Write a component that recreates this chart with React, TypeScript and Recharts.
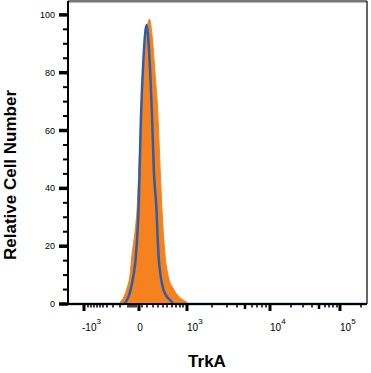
import React from 'react';
import { ComposedChart, Area, Line, XAxis, YAxis, ReferenceLine } from 'recharts';

// x values are display channels on the biexponential TrkA axis (0..299 across the plot)
const orangeX = [0, 51, 53, 56, 59, 62, 64, 67, 69, 71, 73, 76, 79, 81.5, 84, 87, 90, 92, 94, 97, 100, 105, 111, 117, 122, 299];
const orangeY = [0, 0, 1, 2.5, 5.5, 10, 17, 25, 32.5, 48, 65, 82, 95, 98.5, 93, 80, 65, 48, 32.5, 17, 10, 5.5, 2.5, 1, 0, 0];

const blueX = [0, 56, 59, 61, 63, 66, 68, 69.5, 70.5, 71.5, 73, 75.5, 78.5, 81, 84, 86, 88.5, 89.5, 90.5, 92.5, 95, 98, 102, 106, 299];
const blueY = [0, 0, 1.4, 3, 5.5, 11, 17, 25, 32.5, 45, 65, 85, 96.5, 88, 65, 45, 32.5, 24, 17, 10, 5.5, 3, 1.4, 0, 0];

// axis ticks
const xMajorTicks = [16, 71, 119, 202, 272];
const xLabelBase = ['-10', '0', '10', '10', '10'];
const xLabelExp = ['3', '', '3', '4', '5'];
const xMidTicks = [177, 251];
const xMinorTicks = [
    20, 23, 26, 29, 32, 35, 39, 45, 52,
    60, 62, 64, 66, 68, 74,
    79, 85, 90, 95, 99, 104, 108, 112, 115,
    144, 159, 169, 184, 189, 194, 198,
    223, 235, 244, 257, 261, 265, 269,
    293,
];
const yTicks = [0, 5, 10, 15, 20, 25, 30, 35, 40, 45, 50, 55, 60, 65, 70, 75, 80, 85, 90, 95, 100];
const yMajorTicks = [0, 20, 40, 60, 80, 100];

const X_MAX = 299;
const Y_MAX = 104.8;
const FONT = '"Liberation Sans", Arial, Helvetica, sans-serif';

// merge both histograms into one table keyed by x
const buildTable = () => {
    const map = new Map<number, { x: number; orange?: number; blue?: number }>();
    orangeX.forEach((x, i) => {
        const row = map.get(x) || { x };
        row.orange = orangeY[i];
        map.set(x, row);
    });
    blueX.forEach((x, i) => {
        const row = map.get(x) || { x };
        row.blue = blueY[i];
        map.set(x, row);
    });
    return Array.from(map.values()).sort((a, b) => a.x - b.x);
};

const allXTicks = [...xMajorTicks, ...xMidTicks, ...xMinorTicks].sort((a, b) => a - b);

const XTick = (props: any) => {
    const { x, y, payload } = props;
    const v = payload.value;
    const mi = xMajorTicks.indexOf(v);
    const isMid = xMidTicks.includes(v);
    const len = mi >= 0 ? 7 : isMid ? 5 : 3.5;
    const w = mi >= 0 ? 3 : isMid ? 2.5 : 1.5;
    return (
        <g>
            <rect x={x - w / 2} y={y} width={w} height={len} fill="#000" />
            {mi >= 0 && (
                <text
                    x={xLabelExp[mi] ? x - (xLabelBase[mi].startsWith('-') ? 2 : 0) : x + 1}
                    y={y + 27}
                    textAnchor={xLabelExp[mi] ? 'start' : 'middle'}
                    fontSize={10}
                    fontFamily={FONT}
                    fill="#000"
                >
                    {xLabelBase[mi]}
                    {xLabelExp[mi] && (
                        <tspan dy={-7} fontSize={8}>{xLabelExp[mi]}</tspan>
                    )}
                </text>
            )}
        </g>
    );
};

const YTick = (props: any) => {
    const { x, y, payload } = props;
    const v = payload.value;
    const major = yMajorTicks.includes(v);
    const len = major ? 9 : 5;
    const h = major ? 3.5 : 2;
    return (
        <g>
            <rect x={x - len} y={y - h / 2} width={len} height={h} fill="#000" />
            {major && (
                <text x={x - 13} y={y + 3} textAnchor="end" fontSize={9} fontFamily={FONT} fill="#000">
                    {v}
                </text>
            )}
        </g>
    );
};

// both axis titles, placed in the page frame
const Titles = () => (
    <g>
        <text x={207} y={367} textAnchor="middle" fontSize={17} fontWeight="bold" fontFamily={FONT} fill="#000">
            TrkA
        </text>
        <text x={16} y={175} transform="rotate(-90 16 175)" textAnchor="middle" fontSize={17} fontWeight="bold" fontFamily={FONT} fill="#000">
            Relative Cell Number
        </text>
    </g>
);

export default function App() {
    const data = buildTable();
    return (
        <div style={{ position: 'absolute', left: 0, top: 0, width: 371, height: 373, background: '#fff' }}>
            <ComposedChart width={371} height={373} data={data} margin={{ top: 1, right: 4, bottom: 0, left: 0 }}>
                <XAxis
                    dataKey="x"
                    type="number"
                    domain={[0, X_MAX]}
                    ticks={allXTicks}
                    interval={0}
                    tick={<XTick />}
                    tickLine={false}
                    tickSize={0}
                    tickMargin={0}
                    height={69}
                    axisLine={{ stroke: '#000', strokeWidth: 2 }}
                    allowDataOverflow
                    label={{ content: () => <Titles /> }}
                />
                <YAxis
                    type="number"
                    domain={[0, Y_MAX]}
                    ticks={yTicks}
                    interval={0}
                    tick={<YTick />}
                    tickLine={false}
                    tickSize={0}
                    tickMargin={0}
                    width={68}
                    axisLine={{ stroke: '#000', strokeWidth: 2 }}
                />
                <ReferenceLine y={Y_MAX} stroke="#777" strokeWidth={3} />
                <ReferenceLine x={X_MAX} stroke="#333" strokeWidth={1.5} />
                <Area
                    type="monotone"
                    dataKey="orange"
                    stroke="#F5821F"
                    strokeWidth={1}
                    fill="#F5821F"
                    fillOpacity={1}
                    dot={false}
                    activeDot={false}
                    connectNulls
                    isAnimationActive={false}
                />
                <Line
                    type="monotone"
                    dataKey="blue"
                    stroke="#2C5EA8"
                    strokeWidth={2.5}
                    dot={false}
                    activeDot={false}
                    connectNulls
                    isAnimationActive={false}
                />
            </ComposedChart>
        </div>
    );
}
